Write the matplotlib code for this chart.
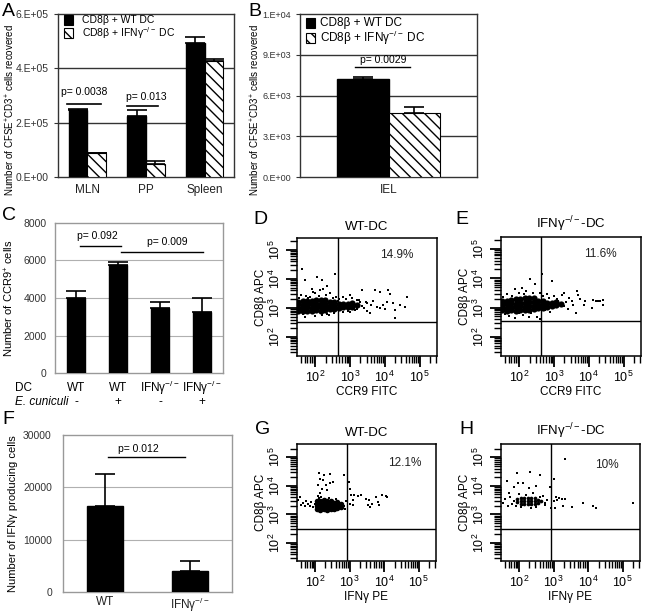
import numpy as np
import matplotlib
matplotlib.use('Agg')
import matplotlib.pyplot as plt
from matplotlib.patches import Rectangle
from matplotlib import ticker
import matplotlib.transforms as mtrans

plt.rcParams['font.family'] = ['Liberation Sans', 'DejaVu Sans']
plt.rcParams['mathtext.fontset'] = 'custom'
plt.rcParams['mathtext.rm'] = 'Liberation Sans'
plt.rcParams['mathtext.it'] = 'Liberation Sans:italic'
plt.rcParams['mathtext.bf'] = 'Liberation Sans:bold'
plt.rcParams['hatch.linewidth'] = 1.0

IFN = 'IFN\u03b3$^{-/-}$'

# ---------------- data ----------------
# Panel A
tissues_A = ['MLN', 'PP', 'Spleen']
wt_A = [247000, 225000, 494000]
wt_A_err = [3000, 22000, 22000]
ko_A = [88000, 48000, 427000]
ko_A_err = [2000, 11000, 8000]
yticks_A = [0, 200000, 400000, 600000]
yticklabels_A = ['0.E+00', '2.E+05', '4.E+05', '6.E+05']

# Panel B
tissues_B = ['IEL']
wt_B = [7215]
wt_B_err = [150]
ko_B = [4710]
ko_B_err = [440]
yticks_B = [0, 3000, 6000, 9000, 12000]
yticklabels_B = ['0.E+00', '3.E+03', '6.E+03', '9.E+03', '1.E+04']

legend_labels = ['CD8\u03b2 + WT DC', 'CD8\u03b2 + ' + IFN + ' DC']

# Panel C
dc_C = ['WT', 'WT', IFN, IFN]
ecun_C = ['-', '+', '-', '+']
vals_C = [4000, 5760, 3470, 3250]
err_C = [370, 160, 320, 750]
yticks_C = [0, 2000, 4000, 6000, 8000]

# Panel F
cats_F = ['WT', IFN]
vals_F = [16440, 4000]
err_F = [6120, 1900]
yticks_F = [0, 10000, 20000, 30000]

# Flow panels (log10 values)
D_core_x = [1.52, 1.52, 1.52, 1.52, 1.64, 1.64, 1.64, 1.64, 1.77, 1.77, 1.77, 1.77,
            1.90, 1.90, 1.90, 1.90, 2.03, 2.03, 2.03, 2.03, 2.16, 2.16, 2.16, 2.16,
            2.29, 2.29, 2.29, 2.29, 2.42, 2.42, 2.42, 2.55, 2.55, 2.55, 2.68, 2.68,
            2.81, 2.81, 2.94, 2.94, 3.07, 3.07, 3.20]
D_core_y = [2.90, 3.01, 3.12, 3.22, 2.88, 3.00, 3.11, 3.23, 2.91, 3.02, 3.13, 3.25,
            2.89, 3.00, 3.12, 3.24, 2.92, 3.03, 3.14, 3.27, 2.90, 3.02, 3.13, 3.26,
            2.93, 3.04, 3.15, 3.28, 2.95, 3.07, 3.19, 2.97, 3.08, 3.20, 3.00, 3.12,
            3.02, 3.14, 3.03, 3.15, 3.05, 3.17, 3.10]
D_dot_x = [1.61, 1.71, 2.05, 2.19, 2.57, 1.95, 2.14, 2.24, 2.43, 3.34, 3.72, 3.87,
           4.10, 4.15, 4.63, 4.58, 4.30, 4.30, 3.96, 3.77, 3.58, 3.19, 3.48, 4.06,
           4.25, 4.44, 3.00, 2.81, 1.90, 2.33, 1.60, 1.75, 2.00, 2.30, 2.50, 2.70,
           2.90, 3.05, 3.30, 3.40, 3.60, 3.50, 2.80, 2.00, 2.40, 1.70, 3.00, 3.65,
           3.85, 4.00, 1.55, 1.85, 2.10, 2.60, 1.65, 2.20, 2.55, 2.95, 3.15, 3.25,
           3.35, 3.45, 3.20, 2.65, 1.80, 2.35]
D_dot_y = [4.33, 3.96, 4.08, 3.96, 4.16, 3.56, 3.62, 3.67, 3.50, 3.62, 3.62, 3.56,
           3.62, 3.48, 3.39, 3.04, 2.93, 2.67, 3.10, 3.04, 2.81, 3.27, 3.16, 3.21,
           3.16, 3.10, 3.45, 3.39, 3.67, 3.75, 3.45, 3.40, 3.50, 3.45, 3.35, 3.30,
           3.30, 3.35, 3.20, 3.00, 3.10, 2.90, 2.85, 2.72, 2.75, 2.70, 2.85, 3.25,
           3.00, 2.95, 3.36, 3.38, 3.40, 3.37, 2.78, 2.77, 2.82, 2.88, 2.92, 3.28,
           3.08, 3.22, 2.95, 3.25, 3.35, 2.80]

E_core_x = [1.52, 1.52, 1.52, 1.52, 1.64, 1.64, 1.64, 1.64, 1.77, 1.77, 1.77, 1.77,
            1.90, 1.90, 1.90, 1.90, 2.03, 2.03, 2.03, 2.03, 2.16, 2.16, 2.16, 2.16,
            2.29, 2.29, 2.29, 2.29, 2.42, 2.42, 2.42, 2.42, 2.55, 2.55, 2.55,
            2.68, 2.68, 2.68, 2.81, 2.81, 2.94, 2.94, 3.07, 3.07, 3.20]
E_core_y = [2.90, 3.01, 3.12, 3.22, 2.88, 3.00, 3.11, 3.23, 2.90, 3.02, 3.14, 3.26,
            2.89, 3.01, 3.13, 3.28, 2.92, 3.04, 3.16, 3.30, 2.91, 3.03, 3.17, 3.33,
            2.93, 3.05, 3.18, 3.34, 2.95, 3.07, 3.20, 3.32, 2.98, 3.10, 3.24,
            3.00, 3.12, 3.24, 3.03, 3.16, 3.05, 3.17, 3.08, 3.18, 3.12]
E_dot_x = [2.31, 2.65, 2.94, 2.07, 1.88, 2.46, 3.65, 3.70, 3.89, 4.13, 4.22, 4.27,
           4.32, 4.42, 4.42, 4.09, 3.85, 3.62, 3.51, 3.42, 3.22, 3.13, 1.88, 2.27,
           2.50, 1.65, 2.00, 2.20, 2.60, 2.80, 3.00, 3.30, 3.40, 2.90, 1.70, 2.10,
           2.60, 3.55, 3.75, 3.30, 1.55, 1.80, 2.15, 2.40, 2.70, 2.85, 3.10, 3.35,
           1.60, 2.00, 2.35, 2.75]
E_dot_y = [3.96, 4.16, 3.90, 3.67, 3.62, 3.79, 3.56, 3.44, 3.21, 3.25, 3.24, 3.24,
           3.24, 3.27, 3.10, 2.98, 3.10, 2.81, 3.21, 3.33, 3.44, 3.21, 2.64, 2.67,
           2.67, 3.45, 3.50, 3.55, 3.50, 3.45, 3.40, 3.05, 2.95, 2.85, 2.72, 2.75,
           2.62, 3.10, 3.30, 3.50, 3.35, 3.40, 3.45, 3.48, 3.40, 3.32, 3.30, 3.20,
           2.78, 2.80, 2.82, 2.90]

G_core_x = [2.05, 2.05, 2.05, 2.05, 2.15, 2.15, 2.15, 2.15, 2.25, 2.25, 2.25, 2.25,
            2.35, 2.35, 2.35, 2.35, 2.45, 2.45, 2.45, 2.45, 2.55, 2.55, 2.55,
            2.65, 2.65, 2.65, 2.75, 2.75]
G_core_y = [3.18, 3.28, 3.38, 3.48, 3.17, 3.27, 3.37, 3.47, 3.18, 3.28, 3.38, 3.50,
            3.17, 3.27, 3.37, 3.46, 3.18, 3.28, 3.38, 3.47, 3.19, 3.29, 3.40,
            3.22, 3.32, 3.42, 3.27, 3.37]
G_dot_x = [2.13, 2.27, 2.44, 2.85, 2.15, 2.23, 2.08, 2.32, 2.42, 2.51, 2.20, 2.35,
           2.15, 2.10, 2.97, 3.01, 3.04, 3.14, 3.23, 3.33, 3.09, 3.00, 3.09, 3.47,
           3.57, 3.76, 3.95, 4.05, 4.09, 3.52, 3.66, 3.81, 3.86, 3.60, 1.56, 1.65,
           1.80, 1.89, 1.99, 1.60, 1.51, 1.72, 1.95, 2.85, 2.90, 2.88, 2.12, 2.18,
           2.40, 2.60, 1.75, 1.85]
G_dot_y = [4.46, 4.39, 4.42, 4.39, 4.25, 4.19, 4.02, 4.02, 4.08, 4.13, 3.90, 3.85,
           3.75, 3.65, 4.13, 3.90, 3.67, 3.67, 3.65, 3.67, 3.49, 3.37, 3.34, 3.55,
           3.49, 3.61, 3.69, 3.65, 3.61, 3.32, 3.38, 3.44, 3.32, 3.25, 3.61, 3.40,
           3.38, 3.42, 3.37, 3.32, 3.49, 3.30, 3.25, 3.30, 3.45, 3.20, 3.58, 3.62,
           3.56, 3.55, 3.45, 3.28]

H_core_x = [1.95, 1.95, 2.05, 2.05, 2.05, 2.15, 2.15, 2.15, 2.25, 2.25, 2.25,
            2.35, 2.35, 2.35, 2.45, 2.45, 2.45, 2.55, 2.55, 2.65]
H_core_y = [3.42, 3.52, 3.38, 3.48, 3.58, 3.36, 3.46, 3.56, 3.37, 3.47, 3.57,
            3.36, 3.46, 3.56, 3.38, 3.48, 3.58, 3.40, 3.50, 3.45]
H_dot_x = [3.32, 1.93, 2.31, 2.60, 3.01, 1.64, 1.98, 2.12, 1.85, 2.30, 2.48, 2.89,
           1.70, 1.60, 1.55, 3.08, 3.15, 3.23, 3.32, 3.00, 3.10, 2.94, 3.03, 3.27,
           3.53, 3.85, 4.14, 4.23, 5.31, 2.74, 1.80, 1.75, 2.00, 2.40, 2.70, 2.80,
           2.05, 2.50, 1.90, 2.35, 1.85, 2.60, 2.75, 2.20, 1.68, 2.10]
H_dot_y = [4.93, 4.46, 4.48, 4.37, 4.23, 4.16, 4.11, 4.08, 3.95, 3.93, 4.00, 3.96,
           3.75, 3.55, 3.40, 3.60, 3.57, 3.55, 3.55, 3.45, 3.50, 3.23, 3.23, 3.30,
           3.26, 3.41, 3.29, 3.23, 3.41, 3.32, 3.35, 3.60, 3.70, 3.75, 3.65, 3.50,
           3.25, 3.25, 3.28, 3.22, 3.48, 3.62, 3.40, 3.68, 3.30, 3.32]

# ---------------- figure ----------------
W, H = 645, 613
fig = plt.figure(figsize=(W / 100, H / 100), dpi=100)


def add_ax(l, t, r, b):
    return fig.add_axes([l / W, 1 - b / H, (r - l) / W, (b - t) / H])


def letter(x, y, s):
    fig.text(x / W, 1 - y / H, s, fontsize=14, ha='left', va='center')


HATCH = '\\\\\\'
ekw = dict(ecolor='black', elinewidth=1.2, capthick=1.2)


def excel_style(ax, col, ysize=7.5):
    for sp in ax.spines.values():
        sp.set_color(col)
        sp.set_linewidth(1.0)
    ax.tick_params(axis='x', length=0, labelsize=8.5, pad=5, colors='#222222')
    ax.tick_params(axis='y', length=3, labelsize=ysize, colors='#333333', width=0.8)


def manual_legend(ax, box, sq_x, sq_ys, txt_x, fs):
    # box = (left, top, right, bottom) of the axes in figure pixels
    l, t, r, b = box
    w, h = r - l, b - t
    styles = [dict(facecolor='black'), dict(facecolor='white', hatch=HATCH)]
    for sy, lab, st in zip(sq_ys, legend_labels, styles):
        ax.add_patch(Rectangle(((sq_x - l) / w, (b - sy - 4.5) / h), 9 / w, 9 / h,
                               transform=ax.transAxes, edgecolor='black', lw=0.8,
                               clip_on=False, zorder=5, **st))
        ax.text((txt_x - l) / w, (b - sy) / h, lab, transform=ax.transAxes,
                fontsize=fs, ha='left', va='center')


# ---------- Panel A ----------
boxA = (58, 14, 234, 177)
axA = add_ax(*boxA)
xA = np.arange(len(tissues_A))
bw = 0.32
axA.bar(xA - bw / 2, wt_A, bw, color='black', edgecolor='black', zorder=3,
        yerr=[np.zeros(len(wt_A)), wt_A_err], capsize=7, error_kw=ekw)
axA.bar(xA + bw / 2, ko_A, bw, color='white', edgecolor='black', hatch=HATCH, lw=0.8,
        zorder=3, yerr=[np.zeros(len(ko_A)), ko_A_err], capsize=7, error_kw=ekw)
axA.set_xlim(-0.5, len(tissues_A) - 0.5)
axA.set_ylim(0, 600000)
axA.set_yticks(yticks_A)
axA.set_yticklabels(yticklabels_A)
axA.set_xticks(xA)
axA.set_xticklabels(tissues_A)
for yv in yticks_A[1:-1]:
    axA.axhline(yv, color='#333333', lw=1.0, zorder=1)
excel_style(axA, '#333333')
axA.set_ylabel('Number of CFSE$^{+}$CD3$^{+}$ cells recovered', fontsize=7)
axA.yaxis.set_label_coords(-0.233, 0.41)
axA.plot([-0.34, 0.24], [269000, 269000], color='black', lw=1.2, zorder=4)
axA.text(-0.05, 313000, 'p= 0.0038', fontsize=7.5, ha='center', va='center')
axA.plot([0.68, 1.2], [261000, 261000], color='black', lw=1.2, zorder=4)
axA.text(1.01, 295000, 'p= 0.013', fontsize=7.5, ha='center', va='center')
manual_legend(axA, boxA, 64, [20, 33], 82, 7.5)
letter(2, 12, 'A')

# ---------- Panel B ----------
boxB = (300, 14, 477, 177)
axB = add_ax(*boxB)
xB = np.arange(len(tissues_B))
bwB = 0.29
axB.bar(xB - bwB / 2, wt_B, bwB, color='black', edgecolor='black', zorder=3,
        yerr=[np.zeros(len(wt_B)), wt_B_err], capsize=7, error_kw=ekw)
axB.bar(xB + bwB / 2, ko_B, bwB, color='white', edgecolor='black', hatch=HATCH, lw=0.8,
        zorder=3, yerr=[np.zeros(len(ko_B)), ko_B_err], capsize=7, error_kw=ekw)
axB.set_xlim(-0.5, 0.5)
axB.set_ylim(0, 12000)
axB.set_yticks(yticks_B)
axB.set_yticklabels(yticklabels_B)
axB.set_xticks(xB)
axB.set_xticklabels(tissues_B)
for yv in yticks_B[1:-1]:
    axB.axhline(yv, color='#333333', lw=1.0, zorder=1)
excel_style(axB, '#333333', ysize=6.5)
axB.set_ylabel('Number of CFSE$^{+}$CD3$^{+}$ cells recovered', fontsize=7)
axB.yaxis.set_label_coords(-0.215, 0.41)
axB.plot([-0.19, 0.12], [8100, 8100], color='black', lw=1.0, zorder=4)
axB.text(-0.03, 8650, 'p= 0.0029', fontsize=7.5, ha='center', va='center')
manual_legend(axB, boxB, 306, [23, 38], 320, 8.5)
letter(248, 12, 'B')

# ---------- Panel C ----------
axC = add_ax(55, 223, 223, 373)
xC = np.arange(len(vals_C))
axC.bar(xC, vals_C, 0.41, color='black', edgecolor='black', zorder=3,
        yerr=[np.zeros(len(vals_C)), err_C], capsize=7, error_kw=ekw)
axC.set_xlim(-0.5, len(vals_C) - 0.5)
axC.set_ylim(0, 8000)
axC.set_yticks(yticks_C)
axC.set_xticks([])
for yv in yticks_C[1:-1]:
    axC.axhline(yv, color='#b0b0b0', lw=0.8, zorder=1)
excel_style(axC, '#999999')
axC.tick_params(axis='y', length=0, pad=6)
axC.set_ylabel('Number of CCR9$^{+}$ cells', fontsize=8)
axC.yaxis.set_label_coords(-0.23, 0.5)
axC.plot([0.1, 1.06], [6770, 6770], color='black', lw=1.0, zorder=4)
axC.text(0.5, 7310, 'p= 0.092', fontsize=7.5, ha='center', va='center')
axC.plot([1.06, 3.02], [6450, 6450], color='black', lw=1.0, zorder=4)
axC.text(2.18, 6990, 'p= 0.009', fontsize=7.5, ha='center', va='center')
trC = mtrans.blended_transform_factory(axC.transData, axC.transAxes)
for i in range(len(vals_C)):
    axC.text(xC[i], -0.10, dc_C[i], transform=trC, ha='center', va='center', fontsize=8.5)
    axC.text(xC[i], -0.193, ecun_C[i], transform=trC, ha='center', va='center', fontsize=8.5)
fig.text(15 / W, 1 - 388 / H, 'DC', fontsize=8.5, ha='left', va='center')
fig.text(15 / W, 1 - 402 / H, 'E. cuniculi', fontsize=8.5, ha='left', va='center',
         style='italic')
letter(2, 215, 'C')

# ---------- Panel F ----------
axF = add_ax(63, 435, 232, 592)
xF = np.arange(len(vals_F))
axF.bar(xF, vals_F, 0.43, color='black', edgecolor='black', zorder=3,
        yerr=[np.zeros(len(vals_F)), err_F], capsize=7, error_kw=ekw)
axF.set_xlim(-0.5, len(vals_F) - 0.5)
axF.set_ylim(0, 30000)
axF.set_yticks(yticks_F)
axF.set_xticks(xF)
axF.set_xticklabels(cats_F)
for yv in yticks_F[1:-1]:
    axF.axhline(yv, color='#b0b0b0', lw=0.8, zorder=1)
excel_style(axF, '#999999')
axF.tick_params(axis='y', length=0, pad=8, labelsize=7.5)
axF.tick_params(axis='x', pad=3)
axF.set_ylabel('Number of IFN\u03b3 producing cells', fontsize=8)
axF.yaxis.set_label_coords(-0.265, 0.5)
axF.plot([0.03, 0.94], [25800, 25800], color='black', lw=1.0, zorder=4)
axF.text(0.39, 27300, 'p= 0.012', fontsize=7.5, ha='center', va='center')
letter(2, 420, 'F')


# ---------- Flow panels ----------
def flow(ax, cx, cy, dx, dy, vq, hq, ylo, yhi, pct, pct_pos, title, xlabel,
         core_s=20):
    ax.set_xscale('log')
    ax.set_yscale('log')
    ax.scatter(10 ** np.array(cx), 10 ** np.array(cy), s=core_s, c='black',
               marker='o', linewidths=0, zorder=3)
    ax.scatter(10 ** np.array(dx), 10 ** np.array(dy), s=2.2, c='black',
               marker='s', linewidths=0, zorder=3)
    ax.set_xlim(10 ** 1.48, 10 ** 5.5)
    ax.set_ylim(10 ** ylo, 10 ** yhi)
    ax.axvline(10 ** vq, color='black', lw=1.0, zorder=2)
    ax.axhline(10 ** hq, color='black', lw=1.0, zorder=2)
    for sp in ax.spines.values():
        sp.set_linewidth(1.1)
    majors = [1e2, 1e3, 1e4, 1e5]
    labs = ['$10^{2}$', '$10^{3}$', '$10^{4}$', '$10^{5}$']
    for axis in (ax.xaxis, ax.yaxis):
        axis.set_major_locator(ticker.FixedLocator(majors))
        axis.set_major_formatter(ticker.FixedFormatter(labs))
        axis.set_minor_locator(ticker.LogLocator(base=10, subs=np.arange(2, 10), numticks=20))
        axis.set_minor_formatter(ticker.NullFormatter())
    ax.tick_params(which='major', direction='out', length=8, width=1.3, labelsize=9, pad=2)
    ax.tick_params(which='minor', direction='out', length=5, width=1.0)
    for lbl in ax.get_yticklabels():
        lbl.set_rotation(90)
        lbl.set_va('center')
    ax.set_xlabel(xlabel, fontsize=8.5, labelpad=1)
    ax.set_ylabel('CD8\u03b2 APC', fontsize=8.5, labelpad=1)
    ax.set_title(title, fontsize=9.5, pad=6)
    ax.text(pct_pos[0], pct_pos[1], pct, transform=ax.transAxes, fontsize=8.5,
            ha='center', va='center', color='#222222')


axD = add_ax(297, 238, 437, 356)
flow(axD, D_core_x, D_core_y, D_dot_x, D_dot_y, 2.65, 2.53, 1.345, 5.41,
     '14.9%', (0.714, 0.856), 'WT-DC', 'CCR9 FITC')
letter(253, 219, 'D')

axE = add_ax(501, 237, 641, 356)
flow(axE, E_core_x, E_core_y, E_dot_x, E_dot_y, 2.62, 2.53, 1.345, 5.41,
     '11.6%', (0.707, 0.856), IFN + '-DC', 'CCR9 FITC')
letter(455, 219, 'E')

axG = add_ax(297, 444, 436, 561)
flow(axG, G_core_x, G_core_y, G_dot_x, G_dot_y, 2.93, 2.48, 1.37, 5.46,
     '12.1%', (0.777, 0.838), 'WT-DC', 'IFN\u03b3 PE', core_s=16)
letter(255, 430, 'G')

axH = add_ax(501, 444, 640, 561)
flow(axH, H_core_x, H_core_y, H_dot_x, H_dot_y, 2.92, 2.48, 1.37, 5.46,
     '10%', (0.763, 0.82), IFN + '-DC', 'IFN\u03b3 PE', core_s=7)
letter(459, 430, 'H')

fig.savefig('out.png', dpi=100)
